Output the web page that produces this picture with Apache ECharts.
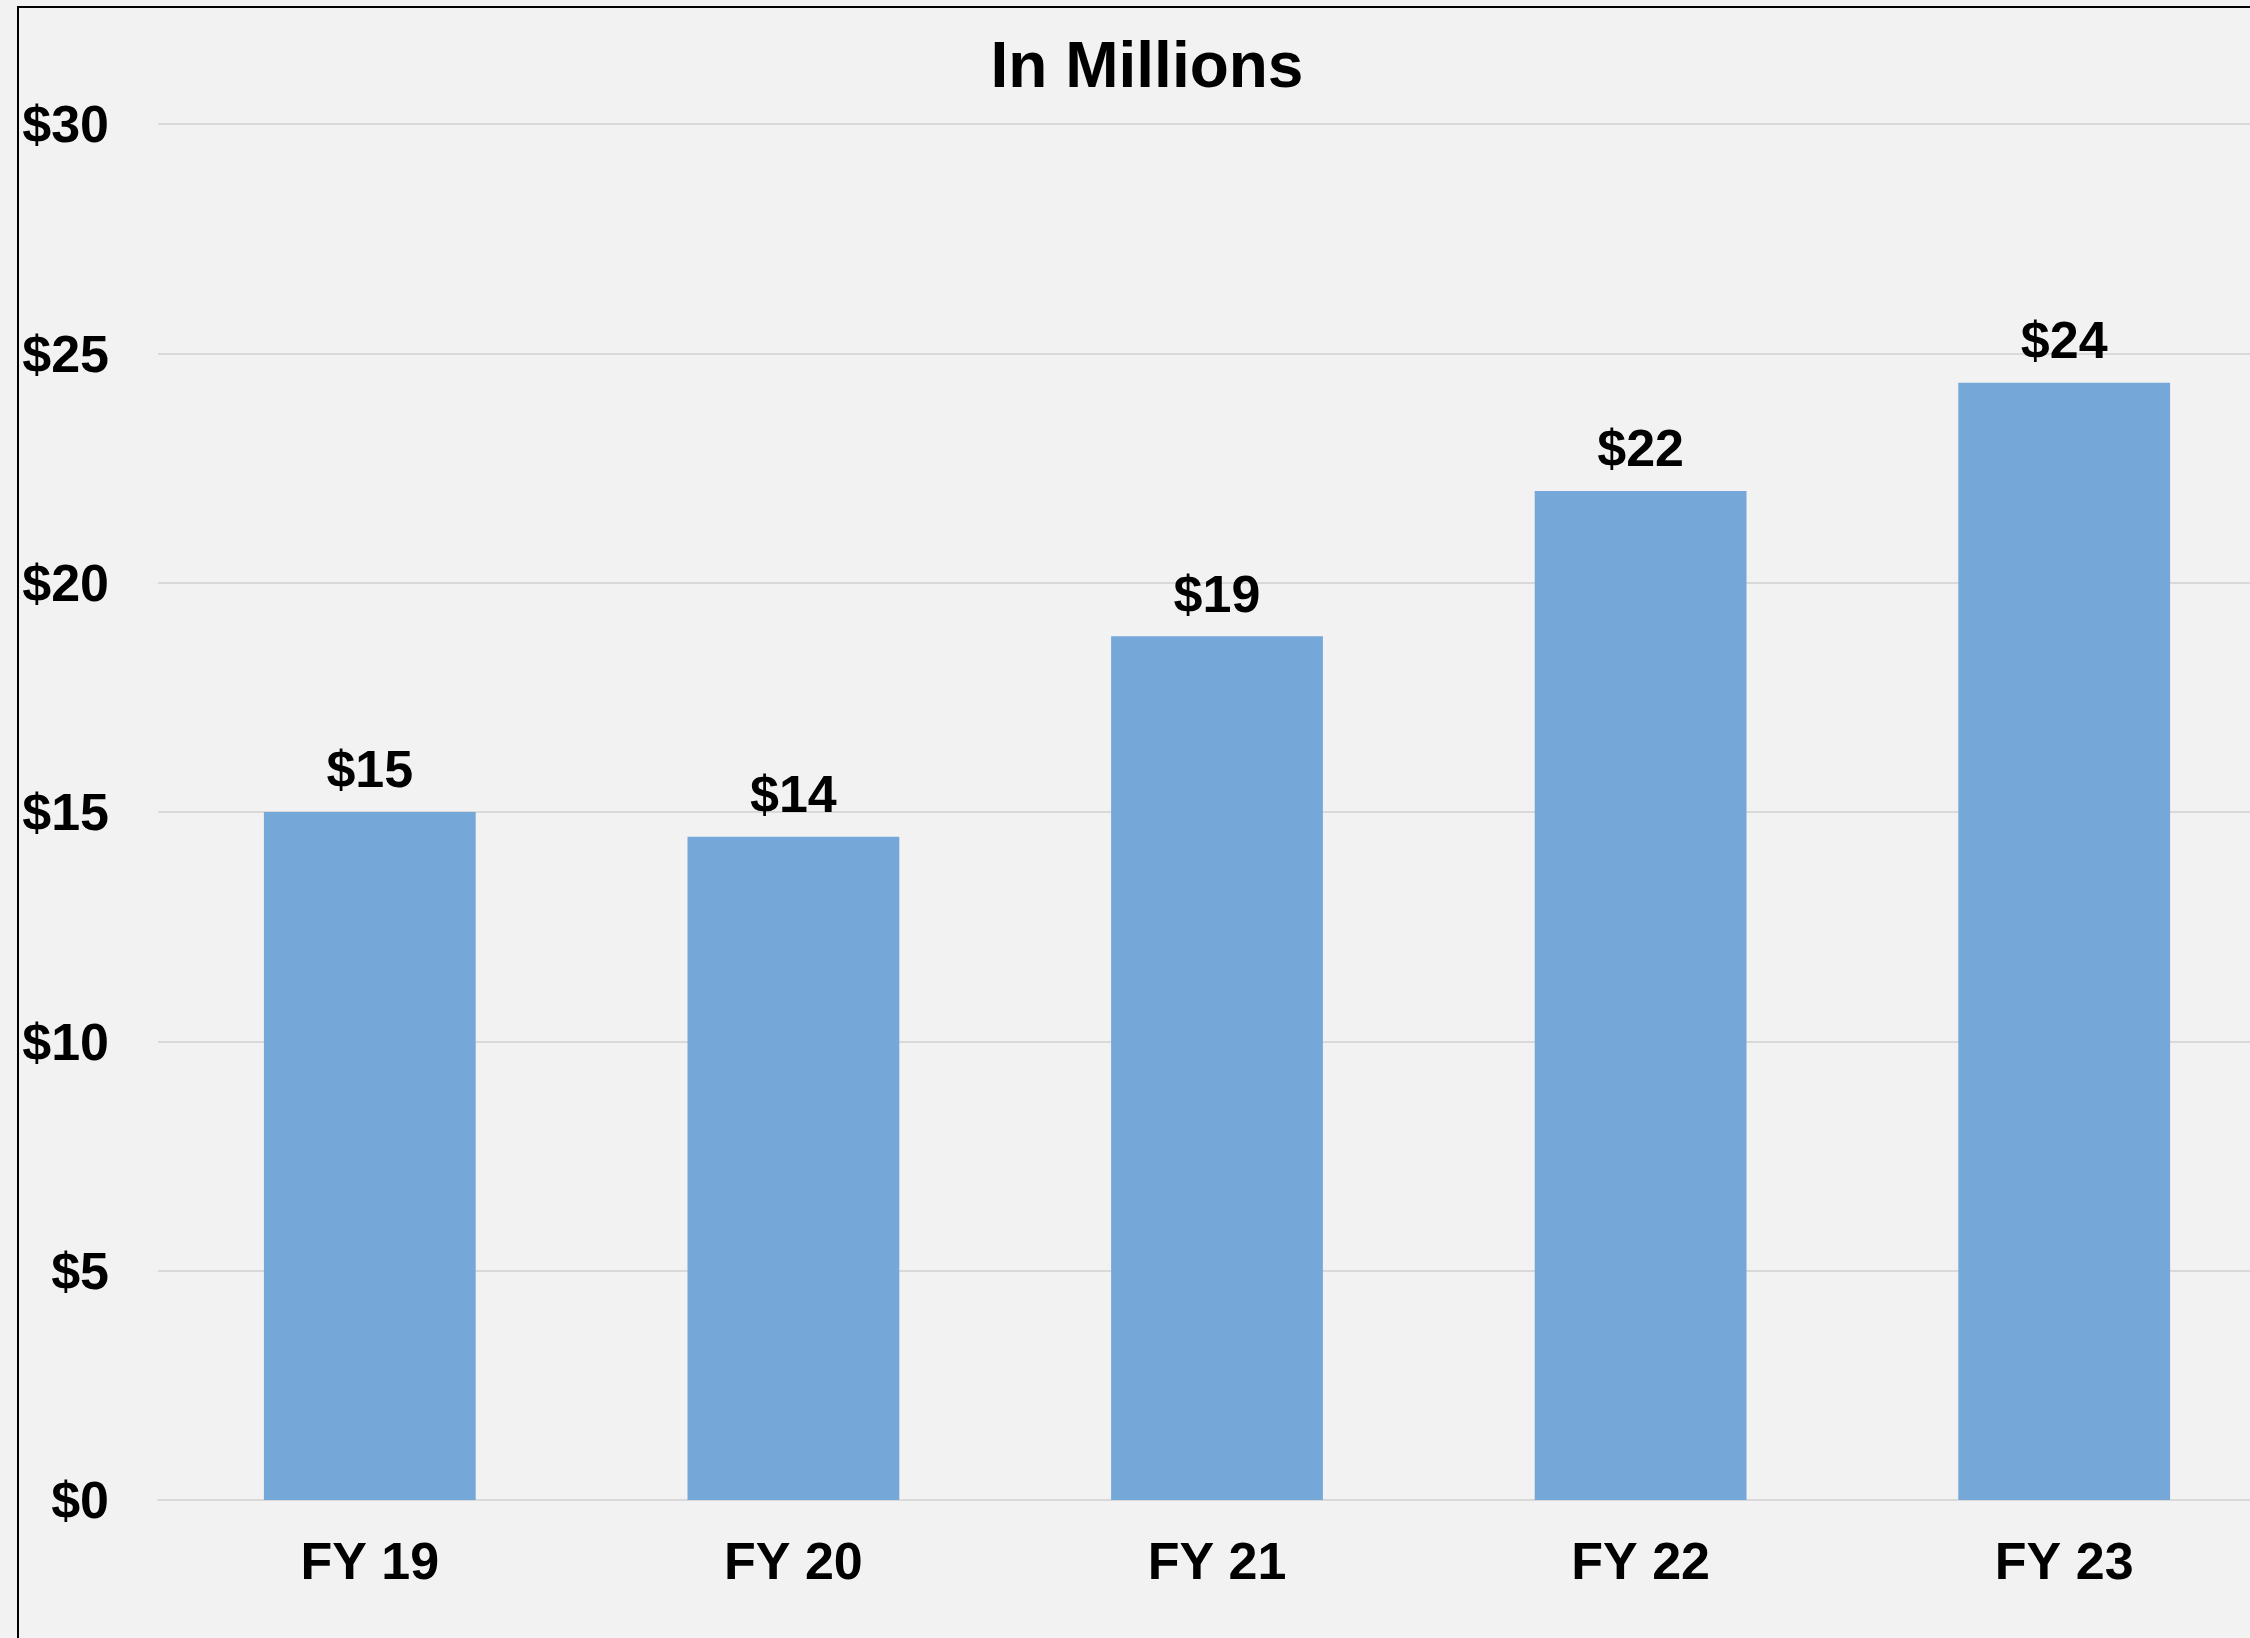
<!DOCTYPE html>
<html>
<head>
<meta charset="utf-8">
<script src="https://cdn.jsdelivr.net/npm/echarts@6/dist/echarts.min.js"></script>
<style>
  html, body { margin: 0; padding: 0; background: #f2f2f2; overflow: hidden; }
  /* the plot runs past the right edge of the picture, so the chart is a bit wider than the window */
  #chart { width: 2276px; height: 1638px; }
</style>
</head>
<body>
<div id="chart"></div>
<script>
// fiscal years on the x axis
const years = ['FY 19', 'FY 20', 'FY 21', 'FY 22', 'FY 23']
// values in millions of dollars
const values = [15.0, 14.46, 18.83, 22.0, 24.36]
const yTicks = [0, 5, 10, 15, 20, 25, 30]

const font = '"Liberation Sans", Arial, sans-serif'

let chart = echarts.init(document.getElementById('chart'))
let option = {
  animation: false,
  backgroundColor: '#f2f2f2',
  title: {
    text: 'In Millions',
    left: 1142,
    textAlign: 'center',
    top: 32,
    textStyle: {
      fontFamily: font,
      fontSize: 64,
      fontWeight: 'bold',
      color: '#000'
    }
  },
  // outer frame, only left and top edges show in the picture
  graphic: [{
    type: 'rect',
    shape: { x: 18, y: 7, width: 2400, height: 2000 },
    style: { fill: 'none', stroke: '#000', lineWidth: 2 },
    silent: true
  }],
  grid: {
    left: 158,
    right: 0,
    top: 124,
    height: 1376
  },
  xAxis: {
    type: 'category',
    data: years,
    axisLine: { show: true, lineStyle: { color: '#d9d9d9', width: 2 } },
    axisTick: { show: false },
    axisLabel: {
      margin: 39,
      fontFamily: font,
      fontSize: 52,
      fontWeight: 'bold',
      color: '#000'
    }
  },
  yAxis: {
    type: 'value',
    min: yTicks[0],
    max: yTicks[yTicks.length - 1],
    interval: 5,
    axisLine: { show: false },
    axisTick: { show: false },
    splitLine: { lineStyle: { color: '#d9d9d9', width: 2 } },
    axisLabel: {
      margin: 49,
      formatter: (v) => '{v|$' + v + '}',
      rich: {
        // small top padding nudges the labels down a few pixels
        v: {
          fontFamily: font,
          fontSize: 52,
          fontWeight: 'bold',
          color: '#000',
          padding: [8, 0, 0, 0]
        }
      }
    }
  },
  series: [
    {
      type: 'bar',
      data: values,
      barCategoryGap: '50%',
      itemStyle: { color: '#75a8d9' },
      label: {
        show: true,
        position: 'top',
        distance: 13,
        fontFamily: font,
        fontSize: 52,
        fontWeight: 'bold',
        color: '#000',
        formatter: (p) => '$' + Math.round(p.value)
      }
    }
  ]
}
chart.setOption(option)
</script>
</body>
</html>
